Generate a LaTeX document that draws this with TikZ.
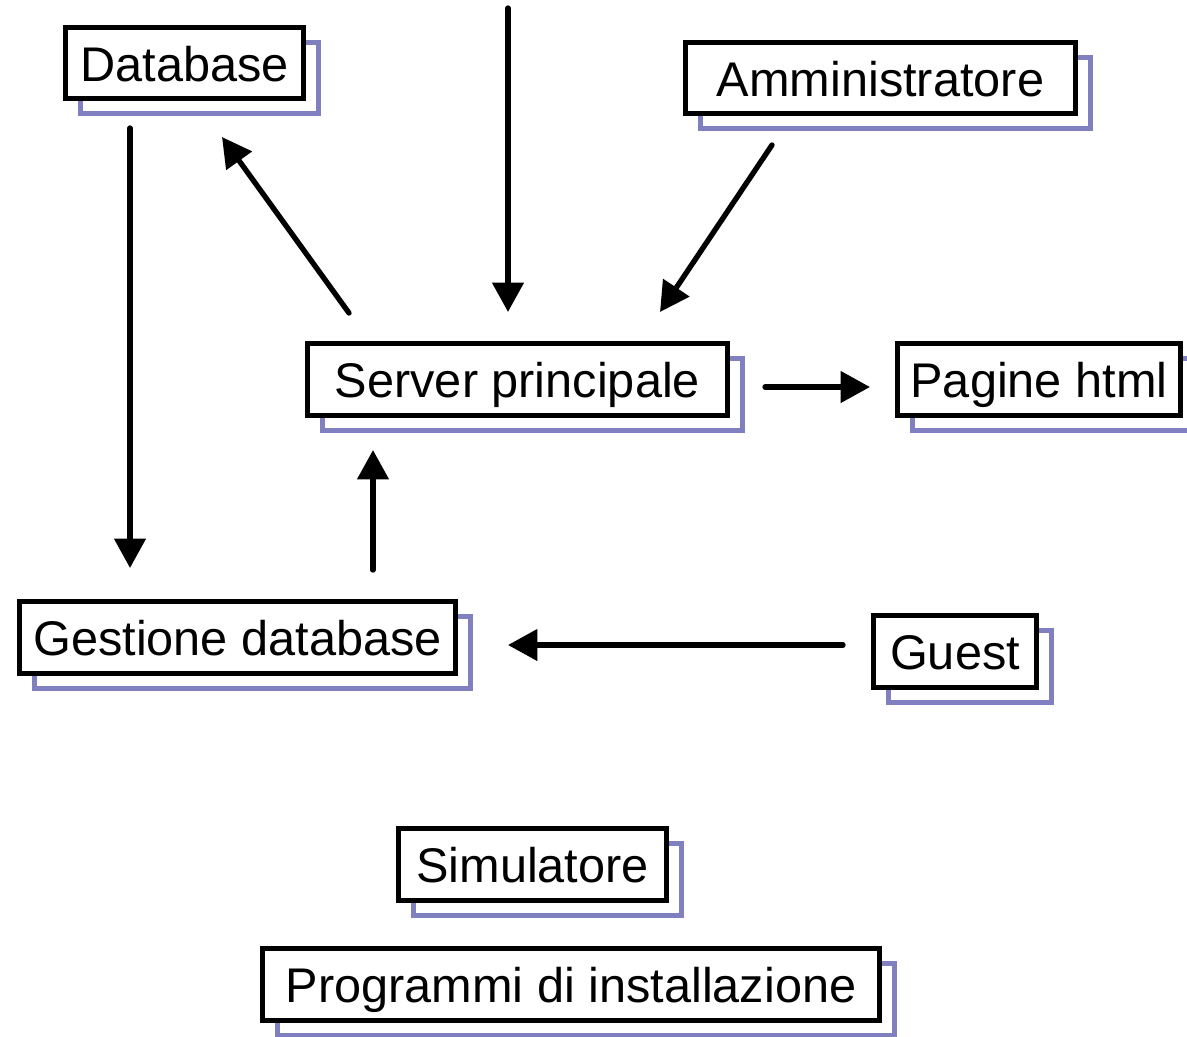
\documentclass[tikz,border=0pt]{standalone}
\usepackage{fontspec}
\setmainfont{Liberation Sans}
\usetikzlibrary{arrows.meta,calc,backgrounds}
\definecolor{shadowc}{HTML}{8080C0}
\tikzset{
  x=0.75pt, y=-0.75pt,
  box/.style={draw=black, fill=white, line width=4.2pt, outer sep=0pt, inner sep=0pt,
    text height=27pt, text depth=0pt,
    font=\fontsize{36.5}{44}\selectfont},
  arr/.style={line width=4pt, line cap=round, -{Triangle[length=22pt,width=23pt]}},
  shadowline/.style={draw=shadowc, line width=3.2pt}
}
\newcommand\mybox[7]{% name, cx, cy, w, h, text
  \node[box, minimum width={(#4-5)*0.75pt}, minimum height={(#5-5)*0.75pt}] (#1) at (#2,#3) {#6};
  \begin{scope}[on background layer]
    \draw[shadowline] ($(#1.south west)+(15,15)$) rectangle ($(#1.north east)+(15,15)$);
  \end{scope}
}
\begin{document}
\begin{tikzpicture}
\useasboundingbox (0,0) rectangle (1187,1036);
\mybox{db}{184.5}{63}{243}{76}{Database}{}
\mybox{adm}{880.5}{78}{395}{76}{Amministratore}{}
\mybox{srv}{517.5}{379.5}{425}{77}{Server principale}{}
\mybox{pag}{1039}{379.5}{288}{77}{Pagine html}{}
\mybox{ges}{237.5}{637.5}{441}{77}{Gestione database}{}
\mybox{gst}{955}{651.5}{168}{77}{Guest}{}
\mybox{sim}{532.5}{864.5}{273}{77}{Simulatore}{}
\mybox{prg}{571}{984.5}{622}{77}{Programmi di installazione}{}
\coordinate (topin) at (508,8);
\draw[arr] (topin) -- ($(srv.north)+(-9.5,-31.5)$);
\draw[arr] ($(adm.south)+(-108.5,31.5)$) -- ($(srv.north)+(142.5,-31.5)$);
\draw[arr] ($(srv.north)+(-168.5,-30.5)$) -- ($(db.south)+(37.5,38.5)$);
\draw[arr] ($(db.south)+(-54.5,29.5)$) -- ($(ges.north)+(-107.5,-33.5)$);
\draw[arr] ($(ges.north)+(135.5,-31.5)$) -- ($(srv.south)+(-144.5,34.5)$);
\draw[arr] ($(srv.east)+(37.5,7.5)$) -- ($(pag.west)+(-27.5,7.5)$);
\draw[arr] ($(gst.west)+(-30.5,-6.5)$) -- ($(ges.east)+(52.5,7.5)$);
\end{tikzpicture}
\end{document}
